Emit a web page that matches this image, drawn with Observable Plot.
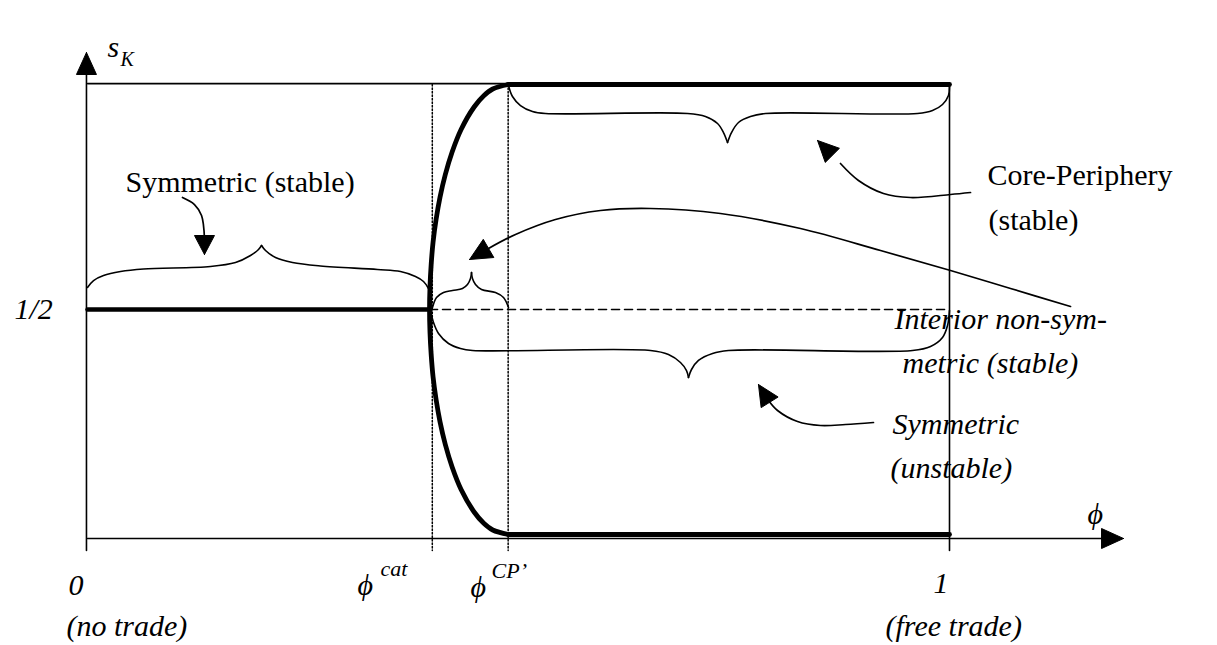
<!DOCTYPE html>
<html><head><meta charset="utf-8">
<script src="https://cdn.jsdelivr.net/npm/d3@7"></script>
<script src="https://cdn.jsdelivr.net/npm/@observablehq/plot@0.6"></script>
<style>html,body{margin:0;padding:0;background:#fff;} #chart{font-family:"Liberation Serif";} svg{display:block;background:#fff;}</style>
</head><body><div id="chart"></div>
<script>
// ---------- data (phi on x, s_K on y) ----------
const phiCat = 0.400;          // break point
const phiCP = 0.488;           // sustain point
const phiApex = 0.3968;        // where the bifurcation curve meets s = 1/2
const sHalf = 0.5;
const axisLow = -0.0089;       // level of the phi axis
const axisExt = -0.0356;       // lower end of verticals
const axisTipX = 1.2019;       // tip of phi axis arrow
const axisTipY = 1.0711;       // tip of s axis arrow

// bifurcation (tomahawk) curve
const bifPhi    = [0.3968,0.3973,0.3987,0.4009,0.4044,0.4090,0.4151,0.4230,0.4334,0.4485,0.4597,0.4701,0.4884];
const bifSUpper = [0.5,0.55,0.6,0.65,0.7,0.75,0.8,0.85,0.9,0.95,0.975,0.99,1.0];
const bifSLower = [0.5,0.45,0.4,0.35,0.3,0.25,0.2,0.15,0.1,0.05,0.025,0.01,0.0];

// braces: [phi, s] points of each half
const braceSymStableL = [[0,0.549],[0.0070,0.5644],[0.0186,0.5756],[0.0383,0.5844],[0.0650,0.5900],[0.1427,0.5956],[0.1717,0.6044],[0.1891,0.6200],[0.1984,0.6333],[0.2019,0.6422]];
const braceSymStableR = [[0.2019,0.6422],[0.2065,0.6311],[0.2181,0.6156],[0.2378,0.6044],[0.2703,0.5967],[0.3364,0.5889],[0.3631,0.5844],[0.3805,0.5733],[0.3898,0.5622],[0.3956,0.5467]];
const braceInteriorL = [[0.4002,0.5044],[0.4049,0.5267],[0.4130,0.5378],[0.4234,0.5422],[0.4350,0.5467],[0.4408,0.5556],[0.4443,0.5689],[0.4455,0.5822]];
const braceInteriorR = [[0.4455,0.5822],[0.4466,0.5689],[0.4501,0.5556],[0.4571,0.5444],[0.4733,0.5378],[0.4826,0.5267],[0.4884,0.5044]];
const braceCPL = [[0.4884,0.9978],[0.4930,0.9733],[0.5023,0.9533],[0.5162,0.9400],[0.5313,0.9356],[0.6961,0.9356],[0.7169,0.9289],[0.7309,0.9133],[0.7378,0.8933],[0.7425,0.8711]];
const braceCPR = [[0.7425,0.8711],[0.7471,0.8933],[0.7552,0.9156],[0.7691,0.9289],[0.7865,0.9356],[0.9629,0.9356],[0.9803,0.9422],[0.9919,0.9556],[0.9988,0.9756],[1.0,0.9956]];
const braceSymUnstL = [[0.3979,0.4978],[0.4014,0.4711],[0.4072,0.4467],[0.4188,0.4244],[0.4327,0.4133],[0.4466,0.4089],[0.6531,0.4089],[0.6740,0.4000],[0.6879,0.3822],[0.6949,0.3644],[0.6972,0.3489]];
const braceSymUnstR = [[0.6972,0.3489],[0.7007,0.3667],[0.7088,0.3867],[0.7251,0.4022],[0.7436,0.4089],[0.9571,0.4089],[0.9780,0.4178],[0.9919,0.4378],[0.9977,0.4644],[1.0,0.4978]];

// annotation arrows (shaft points, then tip)
const arrowSymStable = [[0.1102,0.7489],[0.1241,0.7333],[0.1323,0.7089],[0.1357,0.6578]];
const tipSymStable = [0.1357,0.6222];
const arrowCP = [[1.0244,0.7600],[1.0012,0.7556],[0.9548,0.7489],[0.9234,0.7578],[0.8944,0.7867],[0.8735,0.8244]];
const tipCP = [0.8469,0.8756];
const arrowInterior = [[1.1404,0.5067],[1.0708,0.5467],[1.0012,0.5867],[0.9200,0.6311],[0.8271,0.6800],[0.7343,0.7133],[0.6531,0.7244],[0.5951,0.7200],[0.5429,0.7000],[0.4965,0.6667],[0.4652,0.6356]];
const tipInterior = [0.4432,0.6111];
const arrowSymUnst = [[0.9118,0.2489],[0.8794,0.2444],[0.8503,0.2422],[0.8237,0.2511],[0.8005,0.2756],[0.7900,0.2978]];
const tipSymUnst = [0.7784,0.3333];

// labels
const labelsUpright = [
  {text:"Symmetric (stable)", phi:0.0441, s:0.7822},
  {text:"Core-Periphery", phi:1.0441, s:0.7978},
  {text:"(stable)", phi:1.0452, s:0.6978}
];
const labelsItalic = [
  {text:"s", phi:0.0232, s:1.0822},
  {text:"1/2", phi:-0.0847, s:0.5},
  {text:"0", phi:-0.0220, s:-0.1133},
  {text:"(no trade)", phi:-0.0244, s:-0.2044},
  {text:"\u03D5", phi:0.3132, s:-0.1133},
  {text:"\u03D5", phi:0.4443, s:-0.1178},
  {text:"1", phi:0.9814, s:-0.1089},
  {text:"(free trade)", phi:0.9258, s:-0.2044},
  {text:"\u03D5", phi:1.1601, s:0.0444},
  {text:"Interior non-sym-", phi:0.9362, s:0.4778},
  {text:"metric (stable)", phi:0.9455, s:0.38},
  {text:"Symmetric", phi:0.9339, s:0.2444},
  {text:"(unstable)", phi:0.9316, s:0.1467}
];
const labelsSmall = [
  {text:"K", phi:0.0383, s:1.0564, size:20},
  {text:"cat", phi:0.3399, s:-0.0756, size:22},
  {text:"CP\u2019", phi:0.4687, s:-0.08, size:22}
];

// ---------- layout ----------
const FONT = "Liberation Serif";
const XR = [87, 949], YR = [534, 84];
const toPx = ([p, s]) => [XR[0] + p * (XR[1] - XR[0]), YR[0] + s * (YR[1] - YR[0])];
const toData = ([x, y]) => [(x - XR[0]) / (XR[1] - XR[0]), (y - YR[0]) / (YR[1] - YR[0])];
function head(tip, from, len, hw, id) {
  const t = toPx(tip), f = toPx(from);
  let dx = t[0] - f[0], dy = t[1] - f[1];
  const L = Math.hypot(dx, dy); dx /= L; dy /= L;
  const b = [t[0] - dx * len, t[1] - dy * len];
  const c1 = [b[0] - dy * hw, b[1] + dx * hw];
  const c2 = [b[0] + dy * hw, b[1] - dx * hw];
  return [t, c1, c2, t].map(p => { const d = toData(p); return {x: d[0], y: d[1], id}; });
}
const heads = [
  ...head([axisTipX, axisLow], [1.0, axisLow], 22, 10, "ax"),
  ...head([-0.0012, axisTipY], [-0.0012, 0.9], 22, 10, "ay"),
  ...head(tipSymStable, arrowSymStable[arrowSymStable.length - 1], 19, 10, "a1"),
  ...head(tipCP, arrowCP[arrowCP.length - 1], 21, 10, "a2"),
  ...head(tipInterior, arrowInterior[arrowInterior.length - 1], 22, 10.5, "a3"),
  ...head(tipSymUnst, arrowSymUnst[arrowSymUnst.length - 1], 21, 10, "a4")
];

const bifCurve = [
  ...bifPhi.map((p, i) => [p, bifSLower[i]]).reverse(),
  ...bifPhi.map((p, i) => [p, bifSUpper[i]]).slice(1)
];

const X = d => d[0], Y = d => d[1];
const seg = (pts, opts) => Plot.line(pts, {x: X, y: Y, stroke: "black", ...opts});
const txt = (data, size, italic) => Plot.text(data, {x: "phi", y: "s", text: "text", textAnchor: "start", fontSize: size, fontFamily: FONT, fontStyle: italic ? "italic" : "normal", fill: "black"});

const chart = Plot.plot({
  width: 1217, height: 645,
  marginTop: 0, marginRight: 0, marginBottom: 0, marginLeft: 0,
  x: {domain: [0, 1], range: XR, axis: null},
  y: {domain: [0, 1], range: YR, axis: null},
  marks: [
    // frame / axes
    seg([[0, 1.002], [1, 1.002]], {strokeWidth: 1.6}),
    seg([[1, 1.002], [1, axisExt]], {strokeWidth: 1.6}),
    seg([[0, axisLow], [axisTipX - 0.02, axisLow]], {strokeWidth: 1.6}),
    seg([[-0.0012, axisExt], [-0.0012, axisTipY - 0.03]], {strokeWidth: 1.6}),
    // dotted verticals
    seg([[phiCat, 1.0], [phiCat, axisExt]], {strokeWidth: 1.5, strokeDasharray: "1.5,2"}),
    seg([[phiCP, 1.0], [phiCP, axisExt]], {strokeWidth: 1.5, strokeDasharray: "1.5,2"}),
    // equilibria
    seg([[phiApex, sHalf], [1, sHalf]], {strokeWidth: 1.6, strokeDasharray: "8,5"}),
    seg([[0, sHalf], [phiApex, sHalf]], {strokeWidth: 4.5}),
    seg([[phiCP, 1], [1, 1]], {strokeWidth: 4.8}),
    seg([[phiCP, 0], [1, 0]], {strokeWidth: 4.8}),
    seg(bifCurve, {strokeWidth: 4.8, curve: "catmull-rom"}),
    // braces
    ...[braceSymStableL, braceSymStableR, braceInteriorL, braceInteriorR, braceCPL, braceCPR, braceSymUnstL, braceSymUnstR]
      .map(b => seg(b, {strokeWidth: 1.6, curve: "catmull-rom"})),
    // arrows
    ...[arrowSymStable, arrowCP, arrowInterior, arrowSymUnst]
      .map(a => seg(a, {strokeWidth: 1.7, curve: "catmull-rom"})),
    Plot.line(heads, {x: "x", y: "y", z: "id", fill: "black", stroke: "black", strokeWidth: 1}),
    // labels
    txt(labelsUpright, 30, false),
    txt(labelsItalic, 30, true),
    ...labelsSmall.map(l => txt([l], l.size, true))
  ]
});
chart.style.fontFamily = FONT;
chart.querySelectorAll("text").forEach(t => { t.style.fontFamily = FONT; });
document.getElementById("chart").appendChild(chart);
</script>
</body></html>
